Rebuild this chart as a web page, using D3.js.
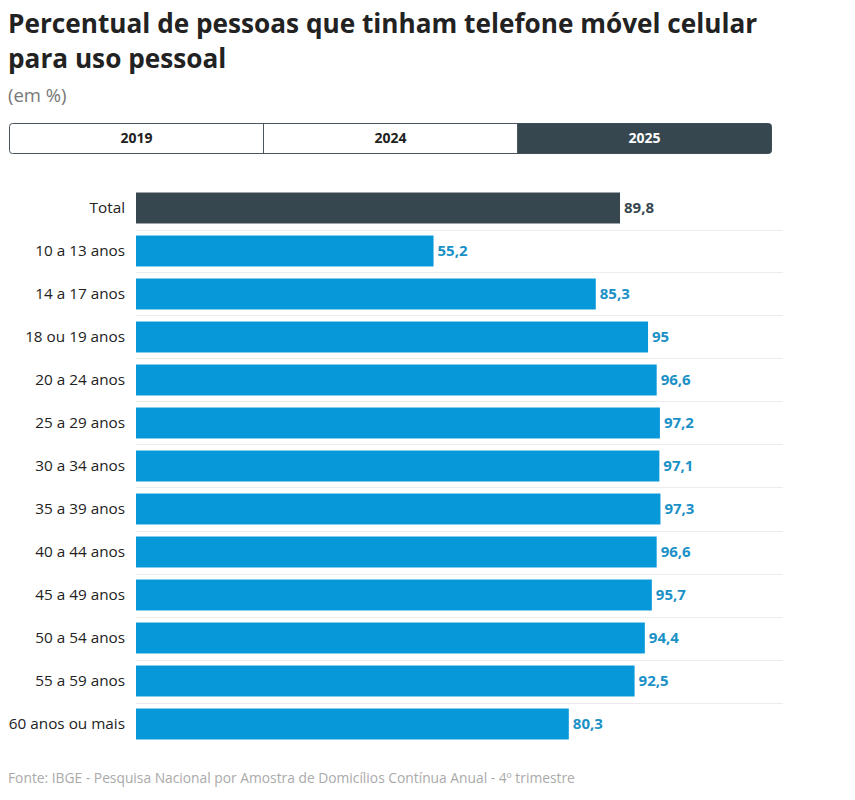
<!doctype html>
<html>
<head>
<meta charset="utf-8">
<style>
    body { margin: 0; background: #fff; font-family: 'Open Sans', sans-serif; }
    text { font-family: 'Open Sans', sans-serif; }
    .title { font-size: 26.2px; font-weight: 700; fill: #222; }
    .subtitle { font-size: 18.5px; fill: #777; }
    .cat { font-size: 15.3px; fill: #222; }
    .value { font-size: 15px; font-weight: 700; }
    .tab { font-size: 14px; font-weight: 700; }
    .source { font-size: 13.8px; fill: #aaa; }
    .sep { stroke: #ececec; stroke-width: 1; }
</style>
<script src="https://d3js.org/d3.v7.min.js"></script>
</head>
<body>
<svg width="855" height="800"></svg>
<script>
const categories = ['Total', '10 a 13 anos', '14 a 17 anos', '18 ou 19 anos', '20 a 24 anos',
    '25 a 29 anos', '30 a 34 anos', '35 a 39 anos', '40 a 44 anos', '45 a 49 anos',
    '50 a 54 anos', '55 a 59 anos', '60 anos ou mais'];
const values = [89.8, 55.2, 85.3, 95, 96.6, 97.2, 97.1, 97.3, 96.6, 95.7, 94.4, 92.5, 80.3];
const years = ['2019', '2024', '2025'];
const activeYear = '2025';

const dark = '#36474f';
const blue = '#0798d9';
const blueText = '#1a91c6';

const svg = d3.select('svg');

// header
svg.append('text').attr('class', 'title').attr('x', 8).attr('y', 33)
    .text('Percentual de pessoas que tinham telefone móvel celular');
svg.append('text').attr('class', 'title').attr('x', 8).attr('y', 68)
    .text('para uso pessoal');
svg.append('text').attr('class', 'subtitle').attr('x', 8).attr('y', 102)
    .text('(em %)');

// year tabs
const tabX = d3.scaleBand().domain(years).range([9.5, 771.5]);
const tabs = svg.append('g');
tabs.append('rect')
    .attr('x', 9.5).attr('y', 123.5).attr('width', 762).attr('height', 30)
    .attr('rx', 3).attr('fill', '#fff').attr('stroke', '#4a565c');
tabs.selectAll('rect.active')
    .data(years.filter(y => y === activeYear))
    .join('path')
    .attr('fill', dark)
    .attr('d', y => {
        const x0 = tabX(y), x1 = x0 + tabX.bandwidth(), r = 3;
        return `M${x0},123.5H${x1 - r}Q${x1},123.5 ${x1},${123.5 + r}V${153.5 - r}Q${x1},153.5 ${x1 - r},153.5H${x0}Z`;
    });
tabs.selectAll('line.div')
    .data(years.slice(1))
    .join('line')
    .attr('x1', y => tabX(y)).attr('x2', y => tabX(y))
    .attr('y1', 123.5).attr('y2', 153.5)
    .attr('stroke', '#4a565c');
tabs.selectAll('text')
    .data(years)
    .join('text')
    .attr('class', 'tab')
    .attr('x', y => tabX(y) + tabX.bandwidth() / 2)
    .attr('y', 143)
    .attr('text-anchor', 'middle')
    .attr('fill', y => y === activeYear ? '#fff' : '#222')
    .text(y => y);

// bars
const x = d3.scaleLinear().domain([0, 100]).range([136, 675]);
const y = d3.scaleBand().domain(categories).range([186.5, 745.5]).paddingInner(0.28).paddingOuter(0.14);
const step = y.step();

const g = svg.append('g');

g.selectAll('line.sep')
    .data(categories.slice(0, -1))
    .join('line')
    .attr('class', 'sep')
    .attr('x1', 136).attr('x2', 783)
    .attr('y1', d => Math.round(y(d) + y.bandwidth() + (step - y.bandwidth()) / 2) + 0.5)
    .attr('y2', d => Math.round(y(d) + y.bandwidth() + (step - y.bandwidth()) / 2) + 0.5);

const rows = categories.map((c, i) => ({ c, v: values[i], total: i === 0 }));

g.selectAll('rect.bar')
    .data(rows)
    .join('rect')
    .attr('class', 'bar')
    .attr('x', x(0))
    .attr('y', d => y(d.c))
    .attr('width', d => x(d.v) - x(0))
    .attr('height', y.bandwidth())
    .attr('fill', d => d.total ? dark : blue);

g.selectAll('text.cat')
    .data(rows)
    .join('text')
    .attr('class', 'cat')
    .attr('x', 125)
    .attr('y', d => y(d.c) + y.bandwidth() / 2)
    .attr('dy', '0.35em')
    .attr('text-anchor', 'end')
    .text(d => d.c);

g.selectAll('text.value')
    .data(rows)
    .join('text')
    .attr('class', 'value')
    .attr('x', d => x(d.v) + 4)
    .attr('y', d => y(d.c) + y.bandwidth() / 2)
    .attr('dy', '0.35em')
    .attr('fill', d => d.total ? dark : blueText)
    .text(d => String(d.v).replace('.', ','));

svg.append('text').attr('class', 'source').attr('x', 8).attr('y', 783)
    .text('Fonte: IBGE - Pesquisa Nacional por Amostra de Domicílios Contínua Anual - 4º trimestre');
</script>
</body>
</html>
